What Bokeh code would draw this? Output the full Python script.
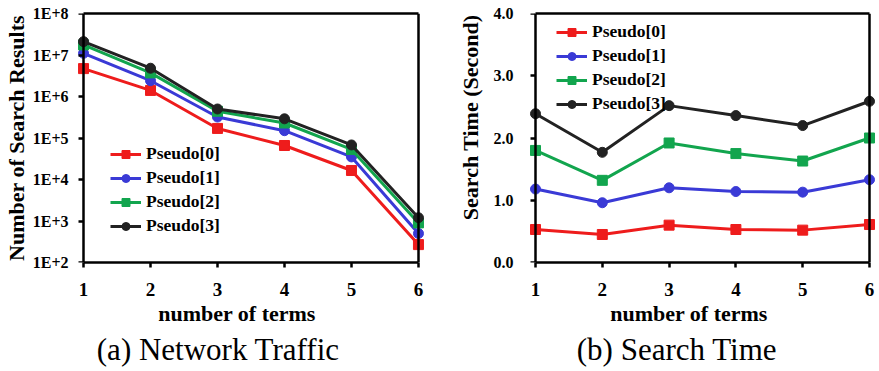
from bokeh.plotting import figure
from bokeh.models import (Range1d, FixedTicker, CustomJSTickFormatter, PrintfTickFormatter,
                          Legend, LegendItem, LinearAxis, LogAxis, Title)
from bokeh.layouts import row
from bokeh.embed import file_html
from bokeh.resources import INLINE

# ---------------- data ----------------
terms = [1, 2, 3, 4, 5, 6]
series_names = ["Pseudo[0]", "Pseudo[1]", "Pseudo[2]", "Pseudo[3]"]

# (a) Network Traffic: number of search results (log scale)
results_p0 = [4.7e6, 1.4e6, 1.7e5, 6.6e4, 1.65e4, 270]
results_p1 = [1.1e7, 2.4e6, 3.2e5, 1.5e5, 3.5e4, 500]
results_p2 = [1.75e7, 3.7e6, 4.4e5, 2.3e5, 5.3e4, 900]
results_p3 = [2.1e7, 4.8e6, 5.0e5, 2.9e5, 6.8e4, 1200]

# (b) Search Time (seconds)
time_p0 = [0.53, 0.45, 0.60, 0.53, 0.52, 0.61]
time_p1 = [1.18, 0.96, 1.20, 1.14, 1.13, 1.33]
time_p2 = [1.80, 1.32, 1.92, 1.75, 1.63, 2.00]
time_p3 = [2.39, 1.77, 2.52, 2.36, 2.20, 2.59]

log_tick_values = [1e2, 1e3, 1e4, 1e5, 1e6, 1e7, 1e8]
log_tick_labels = ["1E+2", "1E+3", "1E+4", "1E+5", "1E+6", "1E+7", "1E+8"]
time_tick_values = [0, 1, 2, 3, 4]
x_label = "number of terms"
captions = ["(a) Network Traffic", "(b) Search Time"]
y_labels = ["Number of Search Results", "Search Time (Second)"]

# ---------------- style ----------------
colors = ["#ee1c1c", "#3a3ad6", "#12a54e", "#222222"]
markers = ["square", "circle", "square", "circle"]
FONT = "Liberation Serif"
XPAD = 0.105  # room so edge markers are not clipped
EMPTY = CustomJSTickFormatter(code="return '';")


def style_axis(ax, size):
    ax.axis_line_width = 2.5
    ax.axis_line_color = "black"
    ax.major_tick_line_width = 2.5
    ax.major_tick_line_color = "black"
    ax.major_tick_out = 5
    ax.major_tick_in = 0
    ax.minor_tick_line_color = None
    ax.major_label_text_font = FONT
    ax.major_label_text_font_style = "bold"
    ax.major_label_text_font_size = size
    ax.major_label_text_color = "black"


def make_panel(width, y_range, y_type, series, border_left, border_right,
               y_ticks, y_formatter, ytick_size, ytick_standoff,
               ylab, ylab_align, ylab_offset, ylab_standoff, xlab_offset, legend_loc,
               caption, cap_offset):
    p = figure(width=width, height=371, output_backend="svg", toolbar_location=None,
               x_range=Range1d(terms[0] - XPAD, terms[-1] + XPAD), y_range=y_range,
               y_axis_type=y_type,
               min_border_left=border_left, min_border_right=border_right,
               min_border_top=13, min_border_bottom=109)
    p.outline_line_color = None
    p.grid.visible = False
    p.background_fill_color = "white"
    p.border_fill_color = "white"

    # bottom axis (line limited to the data extent)
    xa = p.xaxis[0]
    style_axis(xa, "19px")
    xa.ticker = FixedTicker(ticks=terms)
    xa.bounds = (terms[0], terms[-1])
    xa.major_label_standoff = 15

    # label-only y axis at the frame edge
    ya = p.yaxis[0]
    style_axis(ya, ytick_size)
    ya.ticker = FixedTicker(ticks=y_ticks)
    ya.formatter = y_formatter
    ya.axis_line_color = None
    ya.major_tick_line_color = None
    ya.major_tick_out = 0
    ya.major_label_standoff = ytick_standoff

    AxisCls = LogAxis if y_type == "log" else LinearAxis
    # drawn y axis at x = first term (ticks pointing left)
    ya2 = AxisCls(ticker=FixedTicker(ticks=y_ticks), formatter=EMPTY)
    style_axis(ya2, "1px")
    ya2.fixed_location = terms[0]
    ya2.major_tick_in = 5
    ya2.major_tick_out = 0
    ya2.major_label_standoff = 0
    p.add_layout(ya2, "right")

    # frame right border at x = last term
    right = AxisCls(ticker=FixedTicker(ticks=[]), formatter=EMPTY,
                    axis_line_width=2.5, axis_line_color="black", major_label_standoff=0)
    right.fixed_location = terms[-1]
    p.add_layout(right, "right")

    # frame top border
    top = LinearAxis(ticker=FixedTicker(ticks=[]), formatter=EMPTY, bounds=(terms[0], terms[-1]),
                     axis_line_width=2.5, axis_line_color="black", major_label_standoff=0)
    p.add_layout(top, "above")

    items = []
    for name, vals, c, m in zip(series_names, series, colors, markers):
        ln = p.line(terms, vals, line_color=c, line_width=3)
        sc = p.scatter(terms, vals, marker=m, size=10, fill_color=c, line_color=c)
        items.append(LegendItem(label=name, renderers=[ln, sc]))

    legend = Legend(items=items, location=legend_loc, padding=0, margin=0, spacing=3,
                    glyph_width=31, glyph_height=20, label_height=20, label_standoff=5,
                    border_line_color=None, background_fill_alpha=0,
                    label_text_font=FONT, label_text_font_style="bold",
                    label_text_font_size="17.5px", label_text_color="black")
    p.add_layout(legend)

    p.add_layout(Title(text=x_label, align="left", offset=xlab_offset, vertical_align="top",
                       standoff=4, text_font=FONT, text_font_style="bold",
                       text_font_size="22px", text_color="black"), "below")
    p.add_layout(Title(text=caption, align="left", offset=cap_offset, vertical_align="top",
                       standoff=5, text_font=FONT, text_font_style="normal",
                       text_font_size="31px", text_color="black"), "below")
    p.add_layout(Title(text=ylab, align=ylab_align, offset=ylab_offset, standoff=ylab_standoff,
                       text_font=FONT, text_font_style="bold",
                       text_font_size="22px", text_color="black"), "left")
    return p


log_formatter = CustomJSTickFormatter(
    args=dict(vals=log_tick_values, labs=log_tick_labels),
    code="""
const i = vals.findIndex(v => Math.abs(Math.log10(v) - Math.log10(tick)) < 1e-6);
return i >= 0 ? labs[i] : "";
""")

p1 = make_panel(440, Range1d(log_tick_values[0], log_tick_values[-1]), "log",
                [results_p0, results_p1, results_p2, results_p3], 76, 15,
                log_tick_values, log_formatter, "16px", 8,
                y_labels[0], "center", 0, 1, 81.7, (34, 26), captions[0], 20.3)

p2 = make_panel(439, Range1d(time_tick_values[0], time_tick_values[-1]), "linear",
                [time_p0, time_p1, time_p2, time_p3], 88, 3,
                time_tick_values, PrintfTickFormatter(format="%.1f"), "16px", 15,
                y_labels[1], "right", 1, 15, 81.7, (28, 148), captions[1], 48.3)

layout = row(p1, p2, spacing=0)
open("out.html", "w").write(file_html(layout, INLINE))
